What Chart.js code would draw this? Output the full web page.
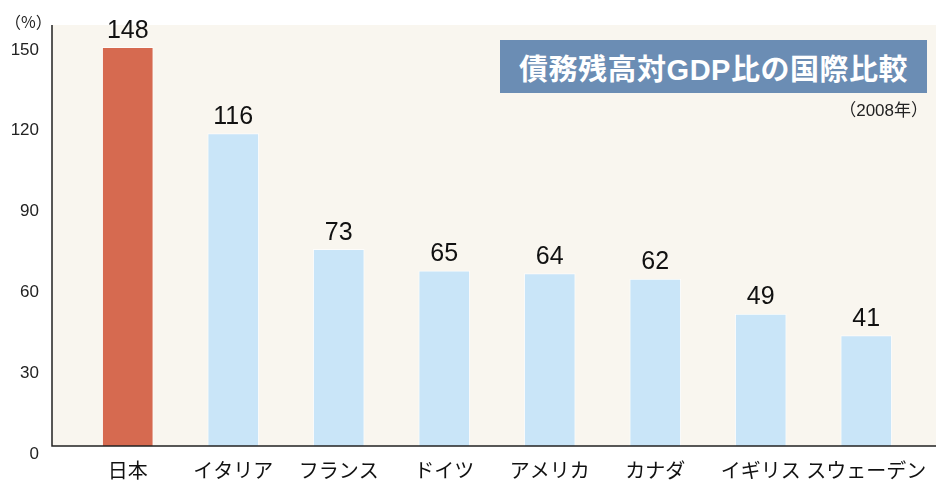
<!DOCTYPE html>
<html>
<head>
<meta charset="utf-8">
<script src="https://cdn.jsdelivr.net/npm/chart.js@4"></script>
<style>
  body { margin: 0; background: #fff; }
  #wrap { position: relative; width: 936px; height: 482px; }
  #unit { position: absolute; left: 5px; top: 11px; font: 16px "Noto Sans CJK JP", sans-serif; color: #222; line-height: 20px; }
  #title { position: absolute; left: 500px; top: 40px; width: 427px; height: 53px; background: #6b8db4;
           color: #fff; font: bold 29px "Liberation Sans", "Noto Sans CJK JP", sans-serif;
           display: flex; align-items: center; justify-content: center; letter-spacing: 0.5px; }
  #year { position: absolute; right: 8px; top: 100px; font: 17px "Liberation Sans", "Noto Sans CJK JP", sans-serif; color: #222; line-height: 22px; }
</style>
</head>
<body>
<div id="wrap">
  <canvas id="chart" width="936" height="482"></canvas>
  <div id="unit">（%）</div>
  <div id="title">債務残高対GDP比の国際比較</div>
  <div id="year">（2008年）</div>
</div>
<script>
const countries = ['日本', 'イタリア', 'フランス', 'ドイツ', 'アメリカ', 'カナダ', 'イギリス', 'スウェーデン'];
const debtRatio = [148, 116, 73, 65, 64, 62, 49, 41];
const yTicks = [0, 30, 60, 90, 120, 150];

const barColors = countries.map((c, i) => i === 0 ? '#d66a50' : '#c9e5f8');

const backdrop = {
    id: 'backdrop',
    beforeDraw(chart) {
        const { ctx, chartArea } = chart;
        ctx.save();
        ctx.fillStyle = '#ffffff';
        ctx.fillRect(0, 0, chart.width, chart.height);
        ctx.fillStyle = '#f9f6ef';
        ctx.fillRect(chartArea.left - 23, 25, chart.width - (chartArea.left - 23), chartArea.bottom - 25);
        ctx.restore();
    },
    afterDatasetsDraw(chart) {
        const { ctx, chartArea } = chart;
        ctx.save();
        // value labels
        ctx.fillStyle = '#111';
        ctx.font = '25px "Liberation Sans", sans-serif';
        ctx.textAlign = 'center';
        ctx.textBaseline = 'bottom';
        chart.getDatasetMeta(0).data.forEach((bar, i) => {
            ctx.fillText(String(debtRatio[i]), bar.x, bar.y - 4);
        });
        // axis lines
        ctx.strokeStyle = '#222';
        ctx.lineWidth = 1.5;
        ctx.beginPath();
        ctx.moveTo(chartArea.left - 23, 25);
        ctx.lineTo(chartArea.left - 23, chartArea.bottom);
        ctx.lineTo(chart.width, chartArea.bottom);
        ctx.stroke();
        ctx.restore();
    }
};

new Chart(document.getElementById('chart').getContext('2d'), {
    type: 'bar',
    data: {
        labels: countries,
        datasets: [{
            data: debtRatio,
            backgroundColor: barColors,
            borderColor: 'rgba(255,255,255,0.7)',
            borderWidth: 1,
            barThickness: 51
        }]
    },
    options: {
        responsive: false,
        animation: false,
        layout: { padding: { top: 42, right: 17, bottom: 0, left: 0 } },
        plugins: { legend: { display: false }, tooltip: { enabled: false } },
        scales: {
            x: {
                grid: { display: false, drawTicks: false },
                border: { display: false },
                ticks: {
                    color: '#111',
                    padding: 12,
                    autoSkip: false,
                    maxRotation: 0,
                    minRotation: 0,
                    font: { family: '"Noto Sans CJK JP", sans-serif', size: 20 }
                },
                afterFit(scale) {
                    scale.height = 36;
                    scale.paddingLeft = 0;
                    scale.paddingRight = 0;
                }
            },
            y: {
                min: 0,
                max: 150,
                grid: { display: false, drawTicks: false },
                border: { display: false },
                afterBuildTicks(scale) { scale.ticks = yTicks.map(v => ({ value: v })); },
                ticks: {
                    color: '#222',
                    padding: 36,
                    labelOffset: 8,
                    font: { family: '"Liberation Sans", sans-serif', size: 17 }
                },
                afterFit(scale) {
                    scale.width = 75;
                    scale.paddingTop = 0;
                    scale.paddingBottom = 0;
                }
            }
        }
    },
    plugins: [backdrop]
});
</script>
</body>
</html>
